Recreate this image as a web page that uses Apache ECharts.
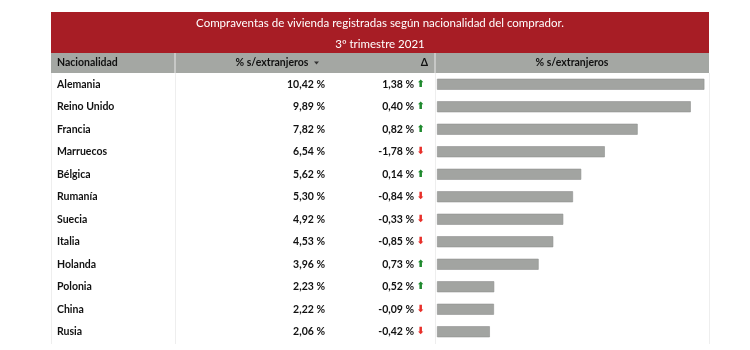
<!DOCTYPE html>
<html>
<head>
<meta charset="utf-8">
<script src="https://cdn.jsdelivr.net/npm/echarts@6/dist/echarts.min.js"></script>
<style>html,body{margin:0;padding:0;background:#fff}#c{width:750px;height:350px}</style>
</head>
<body>
<div id="c"></div>
<script>
var titleLine1 = 'Compraventas de vivienda registradas según nacionalidad del comprador.';
var titleLine2 = '3º trimestre 2021';
var headers = ['Nacionalidad', '% s/extranjeros', 'Δ', '% s/extranjeros'];
var countries = ['Alemania','Reino Unido','Francia','Marruecos','Bélgica','Rumanía','Suecia','Italia','Holanda','Polonia','China','Rusia'];
var shares = [10.42, 9.89, 7.82, 6.54, 5.62, 5.30, 4.92, 4.53, 3.96, 2.23, 2.22, 2.06];
var deltas = [1.38, 0.40, 0.82, -1.78, 0.14, -0.84, -0.33, -0.85, 0.73, 0.52, -0.09, -0.42];

function fmt(v){ return v.toFixed(2).replace('.', ',') + ' %'; }

var FONT = 'Lato';
var RED = '#a71d25';
var HEAD = '#a4a7a3';
var LINE = '#eeeeee';

var chart = echarts.init(document.getElementById('c'), null, {renderer:'canvas'});
var lblBase = {fontFamily: FONT, fontSize: 10.5, fontWeight: 'bold', color: '#111'};

var option = {
  animation: false,
  grid: {left: 437, right: 41, top: 73, bottom: 7},
  xAxis: {type: 'value', min: 0, max: 10.6, show: false},
  yAxis: [
    {type: 'category', inverse: true, data: countries, position: 'left', offset: 0,
     axisLine: {show: false}, axisTick: {show: false},
     axisLabel: Object.assign({margin: 380, align: 'left'}, lblBase)},
    {type: 'category', inverse: true, data: shares, position: 'left', offset: 108,
     axisLine: {show: false}, axisTick: {show: false},
     axisLabel: Object.assign({margin: 4, align: 'right', formatter: function(v){ return fmt(+v); }}, lblBase)},
    {type: 'category', inverse: true, data: deltas, position: 'left', offset: 9,
     axisLine: {show: false}, axisTick: {show: false},
     axisLabel: Object.assign({margin: 3, align: 'right',
       formatter: function(v){ v = +v; return fmt(v) + ' ' + (v >= 0 ? '{up|⬆}' : '{dn|⬇}'); },
       rich: {
         up: {color: '#1f8a2e', fontFamily: 'DejaVu Sans', fontSize: 10},
         dn: {color: '#e8302a', fontFamily: 'DejaVu Sans', fontSize: 10}
       }}, lblBase)}
  ],
  series: [{
    type: 'bar',
    data: shares,
    barWidth: 11,
    yAxisIndex: 0,
    itemStyle: {color: '#a2a4a1', borderColor: '#8f918e', borderWidth: 0.6},
    silent: true
  }],
  graphic: [
    {type: 'rect', shape: {x: 51, y: 12, width: 658, height: 41}, style: {fill: RED}, silent: true},
    {type: 'text', x: 380, y: 23, style: {text: titleLine1, fill: '#fff', font: '11.5px ' + FONT, textAlign: 'center', textVerticalAlign: 'middle'}},
    {type: 'text', x: 380, y: 44, style: {text: titleLine2, fill: '#fff', font: '11.5px ' + FONT, textAlign: 'center', textVerticalAlign: 'middle'}},
    {type: 'rect', shape: {x: 51, y: 53, width: 658, height: 20}, style: {fill: HEAD}, silent: true},
    {type: 'line', shape: {x1: 175, y1: 53, x2: 175, y2: 73}, style: {stroke: '#e9e9e9', lineWidth: 1}},
    {type: 'line', shape: {x1: 435, y1: 53, x2: 435, y2: 73}, style: {stroke: '#e9e9e9', lineWidth: 1}},
    {type: 'line', shape: {x1: 51.5, y1: 73, x2: 51.5, y2: 344}, style: {stroke: LINE, lineWidth: 1}},
    {type: 'line', shape: {x1: 175.5, y1: 73, x2: 175.5, y2: 344}, style: {stroke: LINE, lineWidth: 1}},
    {type: 'line', shape: {x1: 435.5, y1: 73, x2: 435.5, y2: 344}, style: {stroke: LINE, lineWidth: 1}},
    {type: 'line', shape: {x1: 709.5, y1: 73, x2: 709.5, y2: 344}, style: {stroke: LINE, lineWidth: 1}},
    {type: 'text', x: 57, y: 63, style: {text: headers[0], fill: '#111', font: 'bold 10.5px ' + FONT, textAlign: 'left', textVerticalAlign: 'middle'}},
    {type: 'text', x: 272, y: 63, style: {text: headers[1], fill: '#111', font: 'bold 10.5px ' + FONT, textAlign: 'center', textVerticalAlign: 'middle'}},
    {type: 'polygon', shape: {points: [[314, 61.5], [319, 61.5], [316.5, 64.5]]}, style: {fill: '#333'}},
    {type: 'text', x: 428, y: 63, style: {text: headers[2], fill: '#111', font: 'bold 10.5px ' + FONT, textAlign: 'right', textVerticalAlign: 'middle'}},
    {type: 'text', x: 572, y: 63, style: {text: headers[3], fill: '#111', font: 'bold 10.5px ' + FONT, textAlign: 'center', textVerticalAlign: 'middle'}}
  ]
};
chart.setOption(option);
</script>
</body>
</html>
